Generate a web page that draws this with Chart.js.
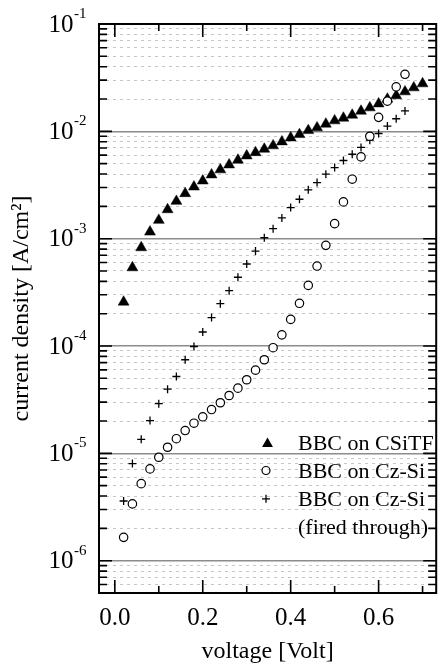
<!DOCTYPE html>
<html>
<head>
<meta charset="utf-8">
<script src="https://cdn.jsdelivr.net/npm/chart.js@4.4.0/dist/chart.umd.min.js"></script>
<style>
  html, body { margin: 0; padding: 0; background: #fff; }
  canvas { display: block; }
</style>
</head>
<body>
<canvas id="ivChart" width="443" height="668"></canvas>
<script>
const SERIF = '"Liberation Serif", "Times New Roman", serif';

// BBC on CSiTF (filled triangles)
const voltCSiTF = [0.02, 0.04, 0.06, 0.08, 0.10, 0.12, 0.14, 0.16, 0.18, 0.20, 0.22, 0.24,
  0.26, 0.28, 0.30, 0.32, 0.34, 0.36, 0.38, 0.40, 0.42, 0.44, 0.46, 0.48, 0.50, 0.52,
  0.54, 0.56, 0.58, 0.60, 0.62, 0.64, 0.66, 0.68, 0.70];
const currCSiTF = [2.57e-4, 5.37e-4, 8.26e-4, 1.156e-3, 1.486e-3, 1.866e-3, 2.234e-3, 2.636e-3,
  3.04e-3, 3.46e-3, 3.94e-3, 4.39e-3, 4.88e-3, 5.40e-3, 5.92e-3, 6.35e-3, 6.84e-3, 7.35e-3,
  8.0e-3, 8.71e-3, 9.35e-3, 1.019e-2, 1.081e-2, 1.17e-2, 1.256e-2, 1.33e-2, 1.419e-2,
  1.545e-2, 1.66e-2, 1.807e-2, 2.0e-2, 2.15e-2, 2.34e-2, 2.55e-2, 2.78e-2];

// BBC on Cz-Si (open circles)
const voltCzSi = [0.02, 0.04, 0.06, 0.08, 0.10, 0.12, 0.14, 0.16, 0.18, 0.20, 0.22, 0.24,
  0.26, 0.28, 0.30, 0.32, 0.34, 0.36, 0.38, 0.40, 0.42, 0.44, 0.46, 0.48, 0.50, 0.52,
  0.54, 0.56, 0.58, 0.60, 0.62, 0.64, 0.66];
const currCzSi = [1.65e-6, 3.38e-6, 5.22e-6, 7.16e-6, 9.2e-6, 1.14e-5, 1.37e-5, 1.63e-5,
  1.91e-5, 2.19e-5, 2.56e-5, 2.96e-5, 3.46e-5, 4.05e-5, 4.85e-5, 5.96e-5, 7.45e-5, 9.64e-5,
  1.27e-4, 1.77e-4, 2.5e-4, 3.67e-4, 5.56e-4, 8.67e-4, 1.38e-3, 2.2e-3, 3.58e-3, 5.78e-3,
  9.0e-3, 1.35e-2, 1.91e-2, 2.6e-2, 3.4e-2];

// BBC on Cz-Si, fired through (crosses)
const voltFired = [0.02, 0.04, 0.06, 0.08, 0.10, 0.12, 0.14, 0.16, 0.18, 0.20, 0.22, 0.24,
  0.26, 0.28, 0.30, 0.32, 0.34, 0.36, 0.38, 0.40, 0.42, 0.44, 0.46, 0.48, 0.50, 0.52,
  0.54, 0.56, 0.58, 0.60, 0.62, 0.64, 0.66];
const currFired = [3.6e-6, 8.03e-6, 1.35e-5, 2.02e-5, 2.9e-5, 3.96e-5, 5.2e-5, 7.45e-5,
  9.9e-5, 1.35e-4, 1.84e-4, 2.48e-4, 3.28e-4, 4.37e-4, 5.81e-4, 7.67e-4, 1.02e-3, 1.24e-3,
  1.56e-3, 1.95e-3, 2.33e-3, 2.85e-3, 3.33e-3, 3.99e-3, 4.6e-3, 5.35e-3, 6.12e-3, 7.08e-3,
  8.28e-3, 9.55e-3, 1.12e-2, 1.31e-2, 1.55e-2];

const decadeExps = [-1, -2, -3, -4, -5, -6];
const majorVolts = [0.0, 0.2, 0.4, 0.6];
const minorVolts = [0.1, 0.3, 0.5, 0.7];
const legendLines = ['BBC on CSiTF', 'BBC on Cz-Si', 'BBC on Cz-Si', '(fired through)'];

const Y_MIN = 5e-7, Y_MAX = 0.1;
const X_MIN = -0.036, X_MAX = 0.731;

const toPoints = (xs, ys) => xs.map((x, i) => ({ x: x, y: ys[i] }));
const isDecade = v => Math.abs(Math.log10(v) - Math.round(Math.log10(v))) < 1e-6;

// inward ticks, frame, tick labels with superscripts, legend
const framePlugin = {
  id: 'frame',
  afterDatasetsDraw(chart) {
    const { ctx, chartArea: a, scales } = chart;
    const xs = scales.x, ys = scales.y;
    ctx.save();
    ctx.strokeStyle = '#000';
    ctx.lineWidth = 1.6;
    ctx.beginPath();
    ys.ticks.forEach(t => {
      const py = ys.getPixelForValue(t.value);
      const len = isDecade(t.value) ? 13 : 8;
      ctx.moveTo(a.left, py); ctx.lineTo(a.left + len, py);
      ctx.moveTo(a.right, py); ctx.lineTo(a.right - len, py);
    });
    majorVolts.concat(minorVolts).forEach(v => {
      const px = xs.getPixelForValue(v);
      const len = majorVolts.includes(v) ? 13 : 7;
      ctx.moveTo(px, a.bottom); ctx.lineTo(px, a.bottom - len);
      ctx.moveTo(px, a.top); ctx.lineTo(px, a.top + len);
    });
    ctx.stroke();
    ctx.lineWidth = 2;
    ctx.strokeRect(a.left, a.top, a.right - a.left, a.bottom - a.top);

    ctx.fillStyle = '#000';
    // y tick labels 10^n
    decadeExps.forEach(e => {
      const py = ys.getPixelForValue(Math.pow(10, e));
      ctx.font = '25px ' + SERIF;
      ctx.textAlign = 'right';
      ctx.textBaseline = 'middle';
      ctx.fillText('10', a.left - 25.5, py + 1);
      ctx.font = '15px ' + SERIF;
      ctx.textAlign = 'left';
      ctx.fillText(String(e), a.left - 25, py - 10);
    });
    // x tick labels
    ctx.font = '25px ' + SERIF;
    ctx.textAlign = 'center';
    ctx.textBaseline = 'middle';
    majorVolts.forEach(v => {
      ctx.fillText(v.toFixed(1), xs.getPixelForValue(v), a.bottom + 25);
    });

    // legend
    const lx = 266, tx = 298, base0 = 449.5, gap = 28.3;
    ctx.font = '22px ' + SERIF;
    ctx.textAlign = 'left';
    ctx.textBaseline = 'alphabetic';
    legendLines.forEach((txt, i) => ctx.fillText(txt, tx, base0 + i * gap));

    let my = base0 - 7.3 + 1.6;
    const r = 6.3;
    ctx.beginPath();
    ctx.moveTo(lx + 1.5, my - r);
    ctx.lineTo(lx + 1.5 + r * Math.sqrt(3) / 2, my + r / 2);
    ctx.lineTo(lx + 1.5 - r * Math.sqrt(3) / 2, my + r / 2);
    ctx.closePath();
    ctx.fill();

    my = base0 + gap - 7.3;
    ctx.lineWidth = 1.2;
    ctx.beginPath();
    ctx.arc(lx, my, 4, 0, Math.PI * 2);
    ctx.stroke();

    my = base0 + 2 * gap - 7.3;
    ctx.lineWidth = 1.3;
    ctx.beginPath();
    ctx.moveTo(lx - 4, my); ctx.lineTo(lx + 4, my);
    ctx.moveTo(lx, my - 4); ctx.lineTo(lx, my + 4);
    ctx.stroke();
    ctx.restore();
  }
};

new Chart(document.getElementById('ivChart'), {
  type: 'scatter',
  data: {
    datasets: [
      {
        label: 'BBC on Cz-Si',
        data: toPoints(voltCzSi, currCzSi),
        pointStyle: 'circle',
        pointRadius: 4.2,
        borderWidth: 1.2,
        borderColor: '#000',
        backgroundColor: '#fff',
        order: 0
      },
      {
        label: 'BBC on CSiTF',
        data: toPoints(voltCSiTF, currCSiTF),
        pointStyle: 'triangle',
        pointRadius: 6.3,
        borderWidth: 0.5,
        borderColor: '#000',
        backgroundColor: '#000',
        order: 1
      },
      {
        label: 'BBC on Cz-Si (fired through)',
        data: toPoints(voltFired, currFired),
        pointStyle: 'cross',
        pointRadius: 4,
        borderWidth: 1.3,
        borderColor: '#000',
        backgroundColor: '#000',
        order: 2
      }
    ]
  },
  options: {
    responsive: false,
    animation: false,
    events: [],
    layout: { padding: { top: 24, right: 6, left: 0, bottom: 0 } },
    plugins: { legend: { display: false }, tooltip: { enabled: false } },
    scales: {
      x: {
        type: 'linear',
        min: X_MIN,
        max: X_MAX,
        grid: { display: false, drawTicks: false },
        border: { display: false },
        ticks: { display: false },
        title: {
          display: true,
          text: 'voltage [Volt]',
          color: '#000',
          font: { family: SERIF, size: 24, lineHeight: 1.2 },
          padding: { top: 0, bottom: 2 }
        },
        afterFit: s => { s.height = 75; }
      },
      y: {
        type: 'logarithmic',
        min: Y_MIN,
        max: Y_MAX,
        afterBuildTicks: s => {
          const ticks = [];
          for (let e = -7; e <= -1; e++) {
            for (let m = 1; m <= 9; m++) {
              const v = m * Math.pow(10, e);
              if (v >= Y_MIN * 0.999 && v <= Y_MAX * 1.001) ticks.push({ value: v });
            }
          }
          s.ticks = ticks;
        },
        grid: {
          drawTicks: false,
          color: c => (c.tick && isDecade(c.tick.value)) ? '#8c8c8c' : '#c6c6c6',
          lineWidth: c => (c.tick && isDecade(c.tick.value)) ? 1.5 : 1
        },
        border: {
          display: false,
          dash: c => (c.tick && !isDecade(c.tick.value)) ? [3, 4] : []
        },
        ticks: { display: false, autoSkip: false },
        title: {
          display: true,
          text: 'current density [A/cm²]',
          color: '#000',
          font: { family: SERIF, size: 24, lineHeight: 1.2 },
          padding: { top: 7, bottom: 0 }
        },
        afterFit: s => { s.width = 99; }
      }
    }
  },
  plugins: [framePlugin]
});
</script>
</body>
</html>
